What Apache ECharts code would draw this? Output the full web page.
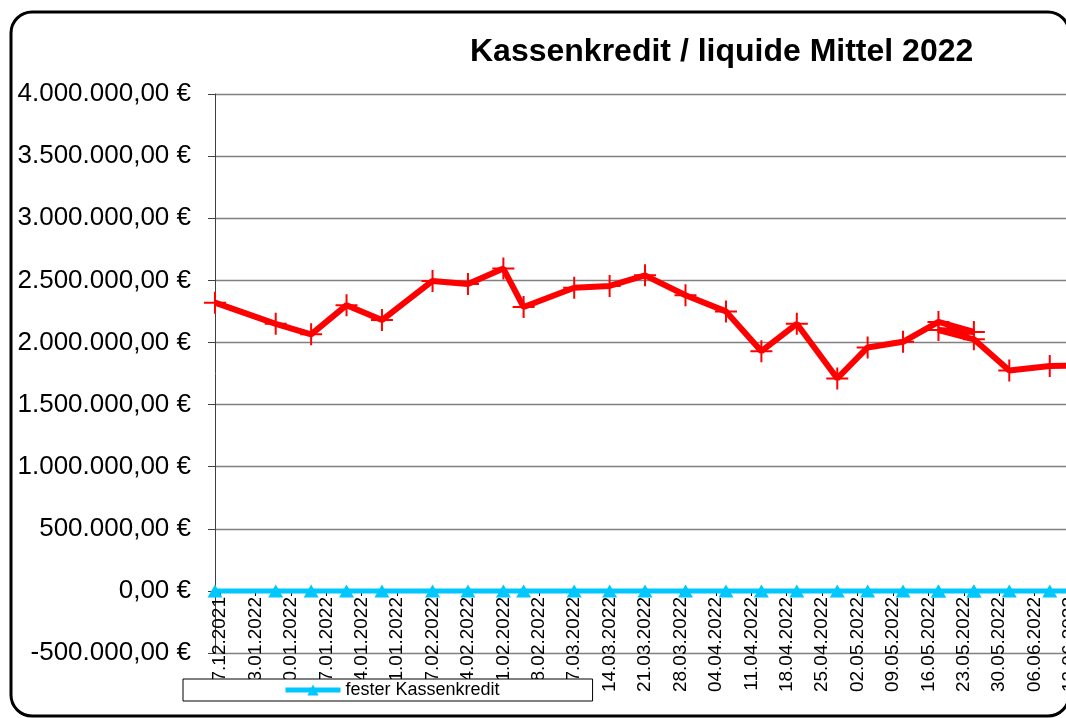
<!DOCTYPE html>
<html>
<head>
<meta charset="utf-8">
<script src="https://cdn.jsdelivr.net/npm/echarts@6/dist/echarts.min.js"></script>
<style>
  html, body { margin: 0; padding: 0; background: #fff; }
  #chart { width: 1066px; height: 718px; }
</style>
</head>
<body>
<div id="chart"></div>
<script>
// ---- data ----
const titleText = 'Kassenkredit / liquide Mittel 2022';
const refDate = '27.12.2021';           // day 0 of the numeric date axis
const axisStart = '26.12.2021';
const axisEnd = '30.06.2022';
const tickLabels = ['27.12.2021','03.01.2022','10.01.2022','17.01.2022','24.01.2022','31.01.2022','07.02.2022','14.02.2022','21.02.2022','28.02.2022','07.03.2022','14.03.2022','21.03.2022','28.03.2022','04.04.2022','11.04.2022','18.04.2022','25.04.2022','02.05.2022','09.05.2022','16.05.2022','23.05.2022','30.05.2022','06.06.2022','13.06.2022','20.06.2022','27.06.2022'];
const dates = ['26.12.2021','07.01.2022','14.01.2022','21.01.2022','28.01.2022','07.02.2022','14.02.2022','21.02.2022','25.02.2022','07.03.2022','14.03.2022','21.03.2022','29.03.2022','06.04.2022','13.04.2022','20.04.2022','28.04.2022','04.05.2022','11.05.2022','18.05.2022','25.05.2022','18.05.2022','25.05.2022','01.06.2022','09.06.2022','16.06.2022'];
const liquideMittel = [2320000, 2150000, 2065000, 2300000, 2180000, 2495000, 2470000, 2595000, 2285000, 2440000, 2455000, 2540000, 2380000, 2250000, 1930000, 2150000, 1710000, 1960000, 2005000, 2165000, 2085000, 2100000, 2025000, 1775000, 1810000, 1815000];
const festerKassenkredit = [0, 0, 0, 0, 0, 0, 0, 0, 0, 0, 0, 0, 0, 0, 0, 0, 0, 0, 0, 0, 0, 0, 0, 0, 0, 0];
const yMin = -500000, yMax = 4000000, yStep = 500000;

// ---- helpers ----
const DAY = 86400000;
function parseDE(s) { const p = s.split('.'); return Date.UTC(+p[2], +p[1] - 1, +p[0]); }
const t0 = parseDE(refDate);
function dayOf(s) { return Math.round((parseDE(s) - t0) / DAY); }
function fmtDate(d) {
  const dt = new Date(t0 + d * DAY);
  const dd = String(dt.getUTCDate()).padStart(2, '0');
  const mm = String(dt.getUTCMonth() + 1).padStart(2, '0');
  return dd + '.' + mm + '.' + dt.getUTCFullYear();
}
function fmtEuro(v) {
  const neg = v < 0; const a = Math.abs(Math.round(v));
  const s = String(a).replace(/\B(?=(\d{3})+(?!\d))/g, '.');
  return (neg ? '-' : '') + s + ',00 €';
}
const redData = dates.map((d, i) => [dayOf(d), liquideMittel[i]]);
const blueData = dates.map((d, i) => [dayOf(d), festerKassenkredit[i]]);
const tickDays = tickLabels.map(dayOf);

const FONT = '"Liberation Sans", Arial, sans-serif';
const plusPath = 'path://M10,0h2v22h-2z M0,10h22v2h-22z';

// grid geometry
const gridTop = 94, gridBottomPx = 653;
const zeroOffset = -Math.round((gridBottomPx - gridTop) * (0 - yMin) / (yMax - yMin));

const chart = echarts.init(document.getElementById('chart'), null, { renderer: 'canvas' });
chart.setOption({
  animation: false,
  backgroundColor: '#fff',
  textStyle: { fontFamily: FONT },
  title: {
    text: titleText,
    left: 465, top: 31,
    textStyle: { fontFamily: FONT, fontSize: 32, fontWeight: 'bold', color: '#000' }
  },
  graphic: [{
    type: 'rect', z: 0, silent: true,
    shape: { x: 11, y: 12, width: 1058, height: 704, r: 21 },
    style: { fill: 'none', stroke: '#000', lineWidth: 3 }
  }],
  legend: {
    data: ['fester Kassenkredit'],
    left: 183, top: 679,
    padding: [2, 93, 2, 100],
    itemWidth: 55, itemHeight: 14,
    backgroundColor: '#fff', borderColor: '#000', borderWidth: 1, borderRadius: 0,
    lineStyle: { width: 5, color: '#00C8FF' },
    textStyle: { fontFamily: FONT, fontSize: 18, color: '#000' },
    z: 10
  },
  grid: { left: 215, top: gridTop, right: -90, bottom: 718 - gridBottomPx, containLabel: false, outerBoundsMode: 'none' },
  xAxis: {
    type: 'value',
    min: dayOf(axisStart), max: dayOf(axisEnd),
    offset: zeroOffset,
    axisLine: { show: true, onZero: false, lineStyle: { color: '#808080', width: 1 } },
    axisTick: { show: true, length: 5, customValues: tickDays, lineStyle: { color: '#000' } },
    splitLine: { show: false },
    axisLabel: {
      rotate: 90, margin: 6, color: '#000', fontFamily: FONT, fontSize: 19,
      customValues: tickDays,
      formatter: v => fmtDate(v)
    }
  },
  yAxis: {
    type: 'value',
    min: yMin, max: yMax, interval: yStep,
    axisLine: { show: true, onZero: false, lineStyle: { color: '#404040', width: 1 } },
    axisTick: { show: true, length: 7, lineStyle: { color: '#404040' } },
    splitLine: { show: true, lineStyle: { color: '#808080', width: 1.3 } },
    axisLabel: { margin: 24, color: '#000', fontFamily: FONT, fontSize: 26, formatter: v => fmtEuro(v) }
  },
  series: [
    {
      name: 'fester Kassenkredit',
      type: 'line',
      data: blueData,
      symbol: 'triangle', symbolSize: [15, 13], showSymbol: true,
      lineStyle: { color: '#00C8FF', width: 5 },
      itemStyle: { color: '#00C8FF' },
      z: 3
    },
    {
      name: 'liquide Mittel',
      type: 'line',
      data: redData,
      symbol: plusPath, symbolSize: 22, showSymbol: true,
      lineStyle: { color: '#FF0000', width: 6 },
      itemStyle: { color: '#FF0000' },
      z: 4
    }
  ]
});
</script>
</body>
</html>
